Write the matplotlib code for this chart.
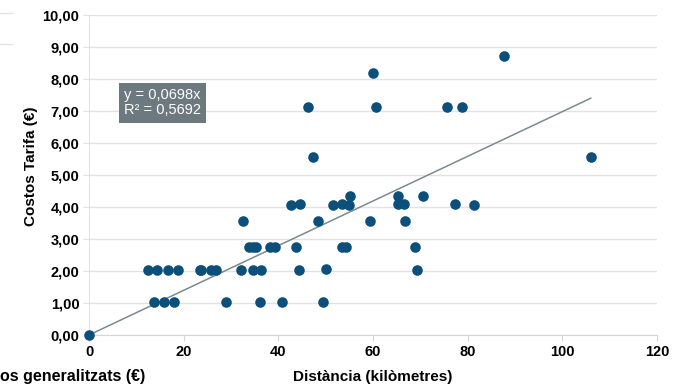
import numpy as np
import matplotlib.pyplot as plt
from matplotlib.lines import Line2D

plt.rcParams['font.family'] = ['Liberation Sans', 'DejaVu Sans']

# Data (distance km, tariff cost EUR)
dist_0 = [0.0]
cost_0 = [0.0]
dist_1 = [13.8, 15.9, 17.9, 28.9, 36.2, 40.7, 49.4]
cost_1 = [1.02] * 7
dist_2 = [12.4, 14.4, 16.7, 18.9, 23.4, 23.7, 25.8, 26.9, 32.2, 34.6, 36.4, 44.4, 50.1, 69.2]
cost_2 = [2.03, 2.03, 2.03, 2.03, 2.03, 2.03, 2.03, 2.03, 2.03, 2.03, 2.03, 2.03, 2.06, 2.03]
dist_3 = [33.7, 34.6, 35.3, 38.3, 39.2, 43.8, 53.5, 54.4, 68.9]
cost_3 = [2.76] * 9
dist_4 = [32.5, 48.4, 59.3, 66.8]
cost_4 = [3.57] * 4
dist_5 = [42.7, 44.5, 51.5, 53.5, 54.9, 65.2, 66.5, 77.4, 81.3]
cost_5 = [4.06, 4.09, 4.06, 4.09, 4.06, 4.09, 4.09, 4.09, 4.06]
dist_6 = [55.2, 65.2, 70.6]
cost_6 = [4.35] * 3
dist_7 = [47.4, 106.0, 46.2, 60.6, 75.7, 78.9, 60.0, 87.6]
cost_7 = [5.55, 5.55, 7.13, 7.13, 7.13, 7.13, 8.20, 8.72]

slope = 0.0698
r2 = 0.5692

x = np.array(dist_0 + dist_1 + dist_2 + dist_3 + dist_4 + dist_5 + dist_6 + dist_7)
y = np.array(cost_0 + cost_1 + cost_2 + cost_3 + cost_4 + cost_5 + cost_6 + cost_7)

fig = plt.figure(figsize=(6.82, 3.9), dpi=100)
ax = fig.add_axes([89 / 682, 55 / 390, 568 / 682, 320 / 390])

ax.set_xlim(0, 120)
ax.set_ylim(0, 10)
ax.set_xticks(np.arange(0, 121, 20))
ax.set_yticks(np.arange(0, 10.01, 1))
ax.set_yticklabels([f'{v:.2f}'.replace('.', ',') for v in np.arange(0, 10.01, 1)])

ax.grid(axis='y', color='#e2e2e2', linewidth=1)
ax.set_axisbelow(True)
for s in ['top', 'right']:
    ax.spines[s].set_visible(False)
ax.spines['left'].set_color('#e2e2e2')
ax.spines['bottom'].set_color('#d6d6d6')
ax.tick_params(axis='y', length=4, color='#e2e2e2', labelsize=10.5, pad=3)
ax.tick_params(axis='x', length=4, color='#d6d6d6', labelsize=10.5, pad=3)
for lab in ax.get_xticklabels() + ax.get_yticklabels():
    lab.set_fontweight('bold')

# trend line
xl = np.array([0, x.max()])
ax.plot(xl, slope * xl, color='#7b8a90', linewidth=1.1, zorder=2)

ax.scatter(x, y, s=58, color='#0b4f7a', zorder=3, clip_on=False, linewidths=0)

ax.set_ylabel('Costos Tarifa (€)', fontsize=11, fontweight='bold')
ax.yaxis.set_label_coords(-0.089, 0.528)
ax.set_xlabel('Distància (kilòmetres)', fontsize=11, fontweight='bold', labelpad=8)

ax.text(0.062, 0.68, f'y = {slope:.4f}x\nR² = {r2:.4f}'.replace('.', ','),
        transform=ax.transAxes, color='white', fontsize=10.5, va='bottom', ha='left',
        linespacing=1.12,
        bbox=dict(boxstyle='square,pad=0.36', facecolor='#6c7a80', edgecolor='none'))

# fragments of a neighbouring chart, cut by the left edge
fig.text(0, 1 - 376 / 390, 'os generalitzats (€)', fontsize=11.5,
         fontweight='bold', ha='left', va='center')
for yy in [13, 44]:
    fig.add_artist(Line2D([0, 12 / 682], [1 - yy / 390] * 2, color='#e2e2e2', linewidth=1))

fig.savefig('out.png', dpi=100)
